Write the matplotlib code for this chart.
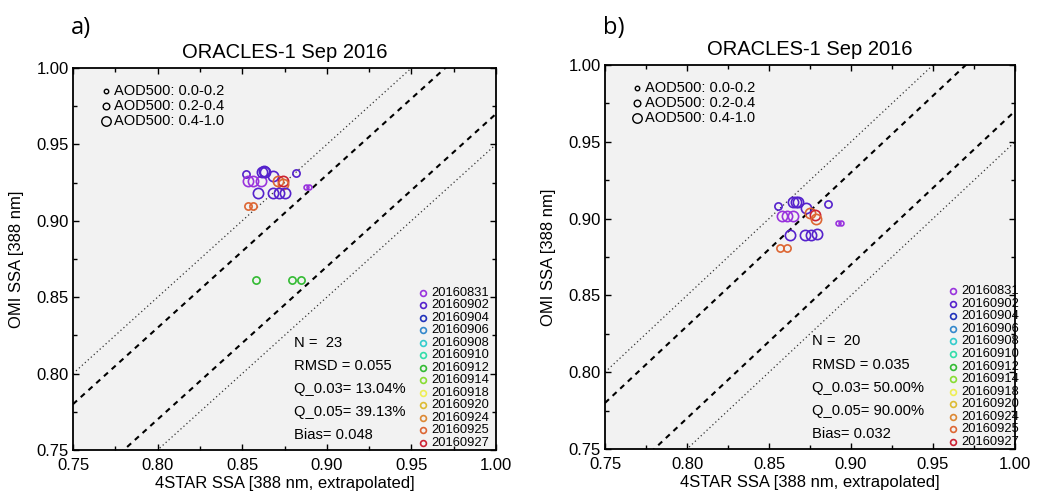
import matplotlib
matplotlib.use('Agg')
import matplotlib.pyplot as plt
from matplotlib.ticker import MultipleLocator

plt.rcParams['font.family'] = ['Liberation Sans', 'DejaVu Sans']

# ---------------- data ----------------
dates = ['20160831', '20160902', '20160904', '20160906', '20160908', '20160910',
         '20160912', '20160914', '20160918', '20160920', '20160924', '20160925', '20160927']
date_colors = ['#9933dd', '#5522cc', '#2233bb', '#3388cc', '#33cccc', '#33ddaa',
               '#33bb33', '#88dd33', '#eeee55', '#ddbb33', '#dd8833', '#dd6633', '#cc2233']

aod_labels = ['AOD500: 0.0-0.2', 'AOD500: 0.2-0.4', 'AOD500: 0.4-1.0']

# panel a: 4STAR SSA (x), OMI SSA (y), date index, AOD class
a_x = [0.8522, 0.8536, 0.8566, 0.8611, 0.8615, 0.8635, 0.8626, 0.8684, 0.8710, 0.8739,
       0.8743, 0.8818, 0.8877, 0.8897, 0.8592, 0.8684, 0.8719, 0.8753, 0.8532, 0.8566,
       0.8582, 0.8793, 0.8848]
a_y = [0.9306, 0.9260, 0.9260, 0.9260, 0.9317, 0.9317, 0.9326, 0.9295, 0.9262, 0.9262,
       0.9241, 0.9311, 0.9219, 0.9219, 0.9180, 0.9180, 0.9180, 0.9180, 0.9097, 0.9097,
       0.8610, 0.8610, 0.8610]
a_date = [1, 0, 0, 0, 1, 1, 1, 1, 11, 12, 11, 1, 0, 0, 1, 1, 1, 1, 11, 11, 6, 6, 6]
a_aod = [1, 2, 2, 2, 2, 2, 2, 2, 2, 2, 2, 1, 0, 0, 2, 2, 2, 2, 1, 1, 1, 1, 1]

# panel b
b_x = [0.8554, 0.8644, 0.8664, 0.8676, 0.8581, 0.8611, 0.8648, 0.8724, 0.8747, 0.8783,
       0.8788, 0.8861, 0.8919, 0.8942, 0.8631, 0.8718, 0.8755, 0.8790, 0.8566, 0.8611]
b_y = [0.9085, 0.9105, 0.9110, 0.9105, 0.9020, 0.9020, 0.9020, 0.9070, 0.9035, 0.9025,
       0.8995, 0.9095, 0.8970, 0.8970, 0.8895, 0.8890, 0.8890, 0.8900, 0.8810, 0.8810]
b_date = [1, 1, 1, 1, 0, 0, 0, 1, 11, 12, 11, 1, 0, 0, 1, 1, 1, 1, 11, 11]
b_aod = [1, 2, 2, 2, 2, 2, 2, 2, 2, 2, 2, 1, 0, 0, 2, 2, 2, 2, 1, 1]

stats_a = ['N =  23', 'RMSD = 0.055', 'Q_0.03= 13.04%', 'Q_0.05= 39.13%', 'Bias= 0.048']
stats_b = ['N =  20', 'RMSD = 0.035', 'Q_0.03= 50.00%', 'Q_0.05= 90.00%', 'Bias= 0.032']

title = 'ORACLES-1 Sep 2016'
xlabel = '4STAR SSA [388 nm, extrapolated]'
ylabel = 'OMI SSA [388 nm]'
tick_vals = [0.75, 0.80, 0.85, 0.90, 0.95, 1.00]

# ---------------- styling ----------------
aod_ms = [3.5, 5.2, 7.4]
W, H = 1046, 498
fig = plt.figure(figsize=(W / 100, H / 100), dpi=100)


def px_rect(l, t, r, b):
    return [l / W, 1 - b / H, (r - l) / W, (b - t) / H]


def panel(rect, xs, ys, di, ai, stats, letter, stats_x, leg_x):
    ax = fig.add_axes(rect)
    ax.set_facecolor('#f2f2f2')
    ax.set_xlim(0.75, 1.0)
    ax.set_ylim(0.75, 1.0)
    lx = [0.75, 1.0]
    for off, ls, lw, col in [(0.03, (0, (2.6, 2.4)), 1.5, 'black'),
                             (-0.03, (0, (2.6, 2.4)), 1.5, 'black'),
                             (0.05, (0, (1, 2.2)), 0.9, '#333333'),
                             (-0.05, (0, (1, 2.2)), 0.9, '#333333')]:
        ax.plot(lx, [v + off for v in lx], linestyle=ls, lw=lw, color=col, zorder=1)
    for x, y, d, a in zip(xs, ys, di, ai):
        ax.plot(x, y, 'o', mfc='none', mec=date_colors[d], ms=aod_ms[a], mew=1.2, zorder=3)
    ax.set_xticks(tick_vals)
    ax.set_yticks(tick_vals)
    ax.set_xticklabels(['%.2f' % v for v in tick_vals])
    ax.set_yticklabels(['%.2f' % v for v in tick_vals])
    ax.xaxis.set_minor_locator(MultipleLocator(0.025))
    ax.yaxis.set_minor_locator(MultipleLocator(0.025))
    ax.tick_params(which='both', direction='in', top=True, right=True, labelsize=12)
    ax.tick_params(axis='y', which='both', pad=3)
    ax.tick_params(axis='x', which='both', pad=6)
    ax.tick_params(which='major', length=4.5, width=1.0)
    ax.tick_params(which='minor', length=3, width=1.0)
    for s in ax.spines.values():
        s.set_linewidth(1.3)
    ax.set_title(title, fontsize=14.5, pad=7)
    ax.set_xlabel(xlabel, fontsize=12, labelpad=2)
    ax.set_ylabel(ylabel, fontsize=12, labelpad=9)
    # AOD size legend
    for i, lab in enumerate(aod_labels):
        yy = 0.940 - 0.039 * i
        ax.plot(0.078, yy, 'o', mfc='none', mec='black', ms=aod_ms[i] * 0.92, mew=1.0,
                transform=ax.transAxes, clip_on=False)
        ax.text(0.098, yy, lab, transform=ax.transAxes, fontsize=10.5, va='center')
    # date legend
    for i, d in enumerate(dates):
        yy = 0.411 - 0.0327 * i
        ax.plot(leg_x, yy, 'o', mfc='none', mec=date_colors[i], ms=4.2, mew=1.2,
                transform=ax.transAxes, clip_on=False)
        ax.text(leg_x + 0.02, yy, d, transform=ax.transAxes, fontsize=9.3, va='center',
                clip_on=False)
    # statistics
    for i, s in enumerate(stats):
        ax.text(stats_x, 0.280 - 0.060 * i, s, transform=ax.transAxes, fontsize=10.6,
                va='center')
    fig.text(rect[0] - 0.002, 1 - 28 / H, letter, fontsize=17,
             family=['Open Sans', 'DejaVu Sans'], va='center', ha='left')
    return ax


panel(px_rect(73, 68, 496, 450), a_x, a_y, a_date, a_aod, stats_a, 'a)', 0.522, 0.827)
panel(px_rect(605, 65, 1015, 449), b_x, b_y, b_date, b_aod, stats_b, 'b)', 0.505, 0.849)

fig.savefig('out.png', dpi=100)
